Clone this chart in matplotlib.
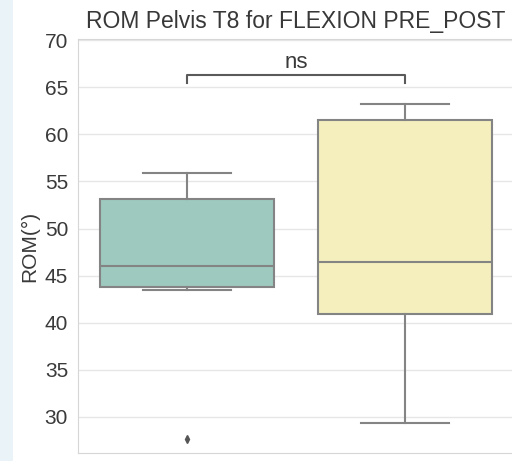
import matplotlib
matplotlib.use('Agg')
import matplotlib.pyplot as plt
from matplotlib.patches import Rectangle

# Box summary values
categories = ['POST', 'PRE']
tick_labels = ['POST', '']
q1 = [43.8, 40.9]
median = [46.0, 46.4]
q3 = [53.1, 61.5]
whis_lo = [43.45, 29.3]
whis_hi = [55.9, 63.2]
fliers = [[27.7], []]
colors = ['#9ec9be', '#f4efbc']

plt.rcParams['font.family'] = ['Liberation Sans', 'DejaVu Sans']

fig = plt.figure(figsize=(5.12, 4.61), dpi=100)
# light blue strip of the screenshot on the left
fig.patches.append(Rectangle((0, 0), 0.025, 1, transform=fig.transFigure,
                             facecolor='#eaf3f8', edgecolor='none', zorder=0))
ax = fig.add_axes([0.152, 0.017, 0.852, 0.898])

stats = []
for i, name in enumerate(categories):
    stats.append({'label': name, 'q1': q1[i], 'med': median[i], 'q3': q3[i],
                  'whislo': whis_lo[i], 'whishi': whis_hi[i], 'fliers': fliers[i]})

edge = '#848484'
bp = ax.bxp(stats, positions=[0, 1], widths=0.8, patch_artist=True,
            boxprops=dict(edgecolor=edge, linewidth=1.5),
            medianprops=dict(color=edge, linewidth=1.5),
            whiskerprops=dict(color=edge, linewidth=1.5),
            capprops=dict(color=edge, linewidth=1.5),
            capwidths=0.4,
            flierprops=dict(marker='d', markersize=4, markerfacecolor='#555555',
                            markeredgecolor='#555555'))
for patch, c in zip(bp['boxes'], colors):
    patch.set_facecolor(c)

ax.set_xlim(-0.5, 1.5)
ax.set_ylim(26.15, 70.1)
ax.set_yticks([30, 35, 40, 45, 50, 55, 60, 65, 70])
ax.set_xticks([0, 1])
ax.set_xticklabels(tick_labels)
ax.tick_params(axis='both', length=0, labelsize=15, colors='#3a3a3a', pad=7)
ax.grid(axis='y', color='#e6e6e6', linewidth=1)
ax.set_axisbelow(True)
for s in ax.spines.values():
    s.set_color('#d6d6d6')

ax.set_ylabel('ROM(°)', fontsize=15, color='#3a3a3a', labelpad=4)
ax.set_title('ROM Pelvis T8 for FLEXION PRE_POST', fontsize=16.5, color='#383838', pad=8)

# significance bracket
yb, h = 65.5, 0.8
ax.plot([0, 0, 1, 1], [yb, yb + h, yb + h, yb], color='#5a5a5a', linewidth=1.5)
ax.text(0.5, yb + h + 0.25, 'ns', ha='center', va='bottom', fontsize=16, color='#3a3a3a')

fig.savefig('out.png', dpi=100)
